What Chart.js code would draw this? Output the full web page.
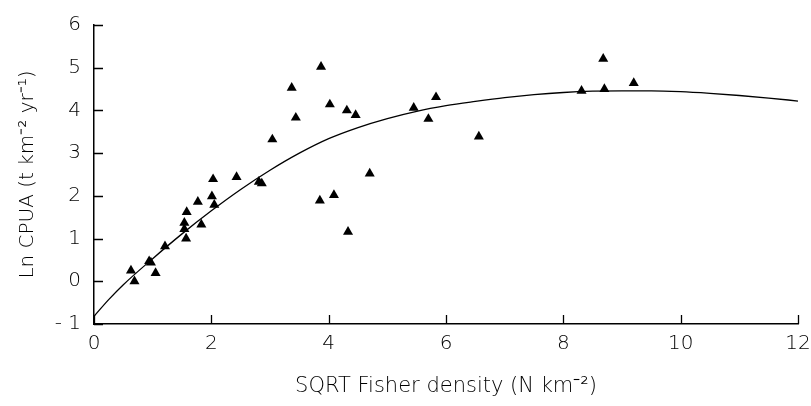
<!DOCTYPE html>
<html>
<head>
<meta charset="utf-8">
<script src="https://cdn.jsdelivr.net/npm/chart.js@4/dist/chart.umd.min.js"></script>
<style>
  html, body { margin: 0; padding: 0; background: #fff; }
  #wrap { width: 811px; height: 406px; position: relative; }
</style>
</head>
<body>
<div id="wrap"><canvas id="chart"></canvas></div>
<script>
// observed points: sqrt fisher density vs ln CPUA
const fisherDensity = [0.63, 0.69, 0.94, 0.97, 1.05, 1.21, 1.54, 1.54, 1.57, 1.58,
  1.83, 1.77, 2.01, 2.05, 2.03, 2.43, 2.81, 2.86, 3.04, 3.37,
  3.44, 3.87, 3.85, 4.02, 4.09, 4.31, 4.33, 4.46, 4.70, 5.45,
  5.70, 5.83, 6.56, 8.31, 8.70, 8.68, 9.20];
const lnCpua = [0.25, 0.00, 0.47, 0.44, 0.19, 0.82, 1.37, 1.22, 1.00, 1.62,
  1.33, 1.86, 1.99, 1.79, 2.39, 2.44, 2.33, 2.29, 3.32, 4.53,
  3.83, 5.02, 1.89, 4.14, 2.02, 4.00, 1.16, 3.89, 2.52, 4.06,
  3.80, 4.31, 3.39, 4.46, 4.50, 5.21, 4.64];

// fitted curve
const fitX = [0, 0.25, 0.5, 1, 1.5, 2, 2.5, 3, 3.5, 4, 4.5, 5, 5.5, 6, 6.5,
  7, 7.5, 8, 8.5, 9, 9.5, 10, 10.5, 11, 11.5, 12];
const fitY = [-0.82, -0.43, -0.08, 0.53, 1.11, 1.65, 2.15, 2.60, 3.00, 3.34, 3.60,
  3.81, 3.98, 4.11, 4.21, 4.30, 4.37, 4.42, 4.45, 4.46, 4.46, 4.44, 4.40,
  4.35, 4.29, 4.22];

const xTickValues = [0, 2, 4, 6, 8, 10, 12];
const yTickValues = [-1, 0, 1, 2, 3, 4, 5, 6];

const textColor = '#000';
const fontFamily = 'DejaVu Sans';

// tick marks pointing into the plot, like the original
const innerTicks = {
  id: 'innerTicks',
  afterDraw(chart) {
    const ctx = chart.ctx;
    const { x, y } = chart.scales;
    ctx.save();
    ctx.strokeStyle = '#000';
    ctx.lineWidth = 1.3;
    ctx.beginPath();
    x.ticks.forEach(t => {
      const px = Math.round(x.getPixelForValue(t.value)) + 0.5;
      ctx.moveTo(px, y.bottom);
      ctx.lineTo(px, y.bottom - 9);
    });
    y.ticks.forEach(t => {
      const py = Math.round(y.getPixelForValue(t.value)) + 0.5;
      ctx.moveTo(x.left, py);
      ctx.lineTo(x.left + 9, py);
    });
    ctx.stroke();
    ctx.restore();
  }
};

const ctx = document.getElementById('chart').getContext('2d');
new Chart(ctx, {
  type: 'scatter',
  data: {
    datasets: [
      {
        data: fisherDensity.map((v, i) => ({ x: v, y: lnCpua[i] })),
        pointStyle: 'triangle',
        pointRadius: 5.8,
        backgroundColor: '#000',
        borderColor: '#000',
        borderWidth: 0
      },
      {
        type: 'line',
        data: fitX.map((v, i) => ({ x: v, y: fitY[i] })),
        borderColor: '#000',
        borderWidth: 1.3,
        pointRadius: 0,
        cubicInterpolationMode: 'monotone',
        fill: false
      }
    ]
  },
  options: {
    responsive: true,
    maintainAspectRatio: false,
    animation: false,
    events: [],
    layout: { padding: { left: 10, top: 21, right: 13, bottom: 4 } },
    plugins: {
      legend: { display: false },
      tooltip: { enabled: false }
    },
    scales: {
      x: {
        type: 'linear',
        min: 0,
        max: 12,
        afterBuildTicks: scale => { scale.ticks = xTickValues.map(v => ({ value: v })); },
        afterFit: scale => {
          scale.height = 78;
          // let the last label run off the edge as in the original
          scale.paddingRight = 0;
          scale.paddingLeft = 0;
        },
        grid: { display: false, drawTicks: false },
        border: { display: true, color: '#000', width: 1.5 },
        ticks: {
          color: textColor,
          padding: 8,
          font: { family: fontFamily, size: 20, weight: 200 }
        },
        title: {
          display: true,
          text: 'SQRT Fisher density (N km⁻²)',
          color: textColor,
          font: { family: fontFamily, size: 21, weight: 200 },
          padding: { top: 0, bottom: 3 }
        }
      },
      y: {
        type: 'linear',
        min: -1,
        max: 6,
        afterBuildTicks: scale => { scale.ticks = yTickValues.map(v => ({ value: v })); },
        afterFit: scale => { scale.width = 84; },
        grid: { display: false, drawTicks: false },
        border: { display: true, color: '#000', width: 1.5 },
        ticks: {
          color: textColor,
          padding: 13,
          font: { family: fontFamily, size: 20, weight: 200 },
          callback: v => (v < 0 ? '- ' + Math.abs(v) : String(v))
        },
        title: {
          display: true,
          text: 'Ln CPUA (t km⁻² yr⁻¹)',
          color: textColor,
          font: { family: fontFamily, size: 20, weight: 200 },
          padding: { top: 6, bottom: 0 }
        }
      }
    }
  },
  plugins: [innerTicks]
});
</script>
</body>
</html>
